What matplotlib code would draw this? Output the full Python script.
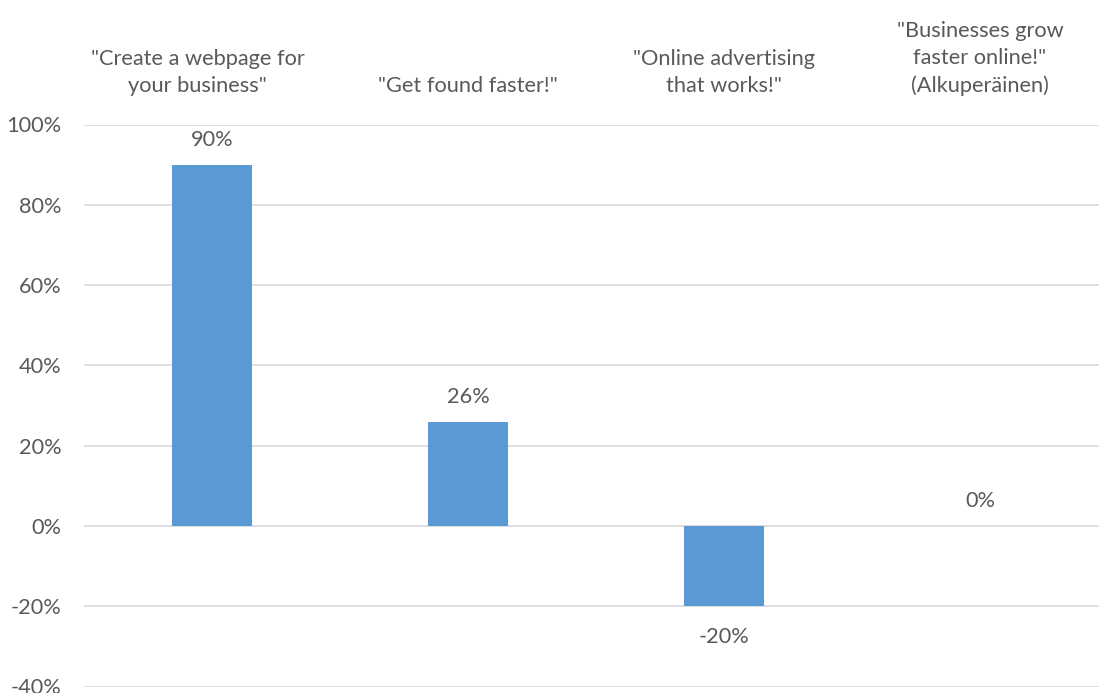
import matplotlib
matplotlib.use("Agg")
import matplotlib.pyplot as plt
import matplotlib.transforms as mtransforms
from matplotlib.ticker import FuncFormatter, MultipleLocator

categories = ['"Create a webpage for\nyour business"',
              '"Get found faster!"',
              '"Online advertising\nthat works!"',
              '"Businesses grow\nfaster online!"\n(Alkuperäinen)']
values = [90, 26, -20, 0]
value_labels = ["90%", "26%", "-20%", "0%"]

plt.rcParams['font.family'] = ['Lato', 'DejaVu Sans']
TXT = "#595959"
FS = 15.7

W, H = 1099, 693
fig = plt.figure(figsize=(W / 100, H / 100), dpi=100)
left, right = 84 / W, 1108 / W
bottom, top = 1 - 686.5 / H, 1 - 124.5 / H
ax = fig.add_axes([left, bottom, right - left, top - bottom])

x = list(range(len(values)))
ax.bar(x, values, width=0.3125, color="#5B9BD5", zorder=3)

ax.set_xlim(-0.5, len(values) - 0.5)
ax.set_ylim(-40, 100)
ax.yaxis.set_major_locator(MultipleLocator(20))
ax.yaxis.set_major_formatter(FuncFormatter(lambda v, p: f"{int(round(v))}%"))
ax.grid(axis="y", color="#D9D9D9", linewidth=1.2, zorder=0)
ax.set_axisbelow(True)
for s in ax.spines.values():
    s.set_visible(False)
ax.tick_params(axis="y", length=0, pad=16, labelsize=FS, labelcolor=TXT)
ax.set_xticks([])

# category labels above plot area
label_shift = [-0.057, 0.0, 0.0, 0.0]
lift = mtransforms.ScaledTranslation(0, 28 / 100, fig.dpi_scale_trans)
for i, c in enumerate(categories):
    ax.text(i + label_shift[i], 1.0, c,
            transform=ax.get_xaxis_transform() + lift,
            ha="center", va="bottom", fontsize=FS, color=TXT,
            linespacing=1.45, clip_on=False)

# value labels
for i, (v, lab) in enumerate(zip(values, value_labels)):
    off = 18 if v >= 0 else -22
    ax.annotate(lab, (i, v), xytext=(0, off), textcoords="offset points",
                ha="center", va="center", fontsize=FS, color=TXT)

fig.savefig("out.png", dpi=100)
